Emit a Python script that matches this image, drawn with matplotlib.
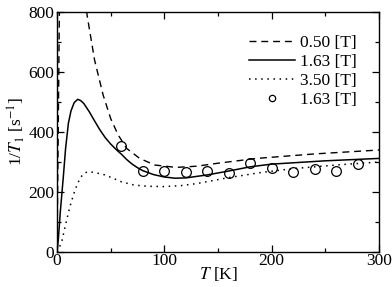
import numpy as np
import matplotlib.pyplot as plt
from matplotlib.ticker import MultipleLocator

plt.rcParams['font.family'] = ['Liberation Serif', 'DejaVu Serif']
plt.rcParams['mathtext.fontset'] = 'stix'

# 0.50 T (dashed)
t_050 = [0, 1, 2, 3, 5, 8, 12, 18, 24, 28, 35, 43, 50, 57, 65, 77, 91, 111, 130, 150, 186, 240, 300]
r_050 = [0, 350, 720, 1100, 1700, 2000, 1800, 1300, 950, 790, 640, 523, 445, 390, 345, 312, 290, 282, 286, 296, 312, 327, 340]

# 1.63 T (solid)
t_163 = [0, 1.2, 3, 5.9, 8, 10.6, 13, 16, 19.3, 22, 25, 30, 35, 40, 45, 50, 55, 60, 65, 70, 75, 80, 90, 100, 110, 120, 140, 160, 180, 200, 250, 300]
r_163 = [0, 40, 130, 251, 345, 429, 470, 498, 509, 505, 495, 468, 437, 407, 381, 360, 342, 326, 308, 293, 281, 271, 258, 250, 246, 247, 257, 270, 284, 293, 304, 312]

# 3.50 T (dotted)
t_350 = [0, 1.2, 4.4, 7.5, 12, 16.8, 21.4, 25, 29, 35, 44.7, 60, 72, 85, 99, 115, 130, 160, 190, 220, 260, 300]
r_350 = [0, 7, 34, 84, 151, 207, 246, 262, 268, 265, 257, 234, 223, 219, 218, 221, 228, 248, 265, 278, 290, 300]

# measured points at 1.63 T
t_exp = [60, 80, 100, 120, 140, 160, 180, 200, 220, 240, 260, 280]
r_exp = [352, 271, 271, 268, 270, 263, 296, 280, 267, 277, 270, 292]

fs = 12.5

fig = plt.figure(figsize=(3.92, 2.87), dpi=100)
ax = fig.add_axes([0.1454, 0.122, 0.8216, 0.836])

ax.plot(t_050, r_050, color='k', lw=1.0, dashes=(5, 3.5), label='0.50 [T]')
ax.plot(t_163, r_163, color='k', lw=1.1, label='1.63 [T]')
ax.plot(t_350, r_350, color='k', lw=1.1, dashes=(1, 3), label='3.50 [T]')
ax.plot(t_exp, r_exp, 'o', mfc='none', mec='k', mew=0.9, ms=7, label='1.63 [T]')

ax.set_xlim(0, 300)
ax.set_ylim(0, 800)
ax.xaxis.set_major_locator(MultipleLocator(100))
ax.xaxis.set_minor_locator(MultipleLocator(50))
ax.yaxis.set_major_locator(MultipleLocator(200))
ax.yaxis.set_minor_locator(MultipleLocator(100))
ax.tick_params(which='both', direction='in', top=True, right=True, labelsize=fs, width=0.9, pad=2)
ax.tick_params(axis='x', pad=1)
ax.tick_params(which='major', length=5)
ax.tick_params(which='minor', length=3)
for s in ax.spines.values():
    s.set_linewidth(1.0)

ax.set_xlabel('$T$ [K]', fontsize=fs, labelpad=-3)
ax.set_ylabel('1/$T_1$ [s$^{-1}$]', fontsize=fs, labelpad=1)

ax.legend(loc='upper right', frameon=False, fontsize=fs, handlelength=2.6,
          handletextpad=0.3, labelspacing=0.17, borderaxespad=0.9, markerscale=0.65)

fig.savefig('out.png', dpi=100)
